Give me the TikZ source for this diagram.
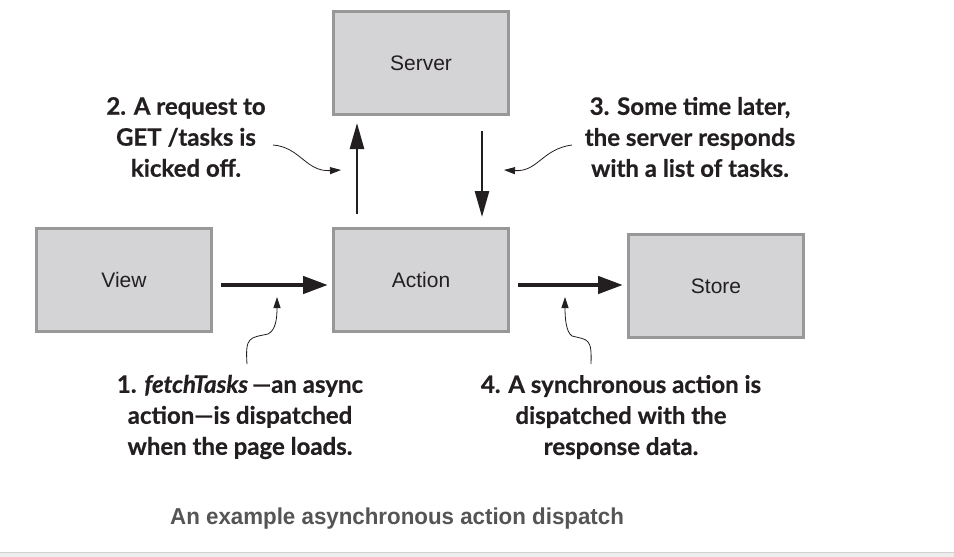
\documentclass[tikz,border=0pt]{standalone}
\usepackage{fontspec}
\setmainfont{Liberation Sans}
\newfontfamily\notefont{Lato}[BoldFeatures={FakeBold=0.6}, BoldItalicFeatures={FakeBold=0.6}]
\usetikzlibrary{arrows.meta}
\definecolor{boxfill}{HTML}{D4D4D6}
\definecolor{boxline}{HTML}{989898}
\definecolor{ink}{HTML}{231F20}
\definecolor{captiongray}{HTML}{555555}
\tikzset{
  box/.style={draw=boxline, line width=3.5pt, fill=boxfill, minimum width=175pt, minimum height=103pt, inner sep=0pt, font=\fontsize{21}{24}\selectfont, text=ink},
  bigarrow/.style={draw=ink, line width=4.5pt, -{Triangle[length=25pt,width=17pt]}},
  vertarrow/.style={draw=ink, line width=2.6pt, -{Triangle[length=26pt,width=14pt]}},
  notearrow/.style={draw=ink, line width=0.8pt, -{Triangle[length=11pt,width=7pt]}},
  note/.style={align=center, text=ink, font=\notefont\bfseries\fontsize{24}{31}\selectfont, inner sep=0pt}
}
\begin{document}
\begin{tikzpicture}[x=1pt,y=-1pt]
\useasboundingbox (0,0) rectangle (954,557);
\fill[white] (0,0) rectangle (954,557);
% boxes
\node[box] (server) at (421,63) {Server};
\node[box] (view) at (124,280) {View};
\node[box] (action) at (421,280) {Action};
\node[box] (store) at (716,286) {Store};
% main arrows
\coordinate (va1) at (221,285);
\coordinate (va2) at (328,285);
\draw[bigarrow] (va1) -- (va2);
\coordinate (as1) at (518,285);
\coordinate (as2) at (623,285);
\draw[bigarrow] (as1) -- (as2);
\coordinate (up1) at (357,214);
\coordinate (up2) at (357,123);
\draw[vertarrow] (up1) -- (up2);
\coordinate (dn1) at (482,131);
\coordinate (dn2) at (482,217);
\draw[vertarrow] (dn1) -- (dn2);
% notes
\node[note] (n2) at (186,137) {2. A request to\\GET /tasks is\\kicked off.};
\node[note] (n3) at (690,137) {3. Some time later,\\the server responds\\with a list of tasks.};
\node[note] (n1) at (240,417) {1. \textit{fetchTasks}\,—an async\\action—is dispatched\\when the page loads.};
\node[note] (n4) at (621,417) {4. A synchronous action is\\dispatched with the\\response data.};
% note connectors
\coordinate (c2a) at (273,145);
\coordinate (c2b) at (341,170);
\draw[notearrow] (c2a) .. controls (300,147) and (306,172) .. (c2b);
\coordinate (c3a) at (572,145);
\coordinate (c3b) at (504,170);
\draw[notearrow] (c3a) .. controls (542,149) and (538,172) .. (c3b);
\coordinate (c1a) at (247,364);
\coordinate (c1m) at (268,334);
\coordinate (c1b) at (277,297);
\draw[notearrow] (c1a) .. controls (245,336) and (250,338) .. (c1m) .. controls (276,330) and (277,318) .. (c1b);
\coordinate (c4a) at (591,364);
\coordinate (c4m) at (572,336);
\coordinate (c4b) at (565,297);
\draw[notearrow] (c4a) .. controls (592,338) and (588,340) .. (c4m) .. controls (566,332) and (565,318) .. (c4b);
% caption
\node[text=captiongray, font=\bfseries\fontsize{23}{26}\selectfont, xscale=0.97, transform shape, anchor=west, inner sep=0pt] (cap) at (170,519) {An example asynchronous action dispatch};
% bottom strip
\fill[black!7] (0,552) rectangle (954,557);
\draw[black!18, line width=0.8pt] (0,552) -- (954,552);
\end{tikzpicture}
\end{document}
